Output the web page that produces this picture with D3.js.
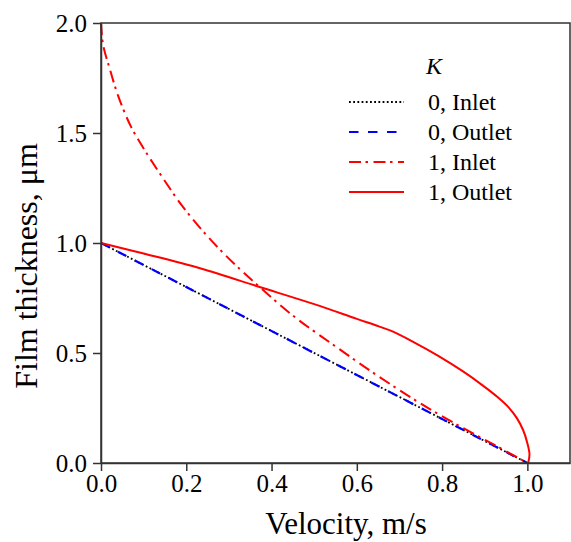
<!DOCTYPE html>
<html><head><meta charset="utf-8">
<script src="https://cdn.jsdelivr.net/npm/d3@7"></script>
<style>body{margin:0;background:#fff;} svg{display:block;} text{font-family:"Liberation Serif","Times New Roman",serif;}</style>
</head><body>
<svg id="c" width="571" height="542"></svg>
<script>
const xTicks = [0, 0.2, 0.4, 0.6, 0.8, 1.0];
const yTicks = [0, 0.5, 1.0, 1.5, 2.0];
const legendLabels = ["0, Inlet", "0, Outlet", "1, Inlet", "1, Outlet"];

const k0InletVel = [0, 1.0];
const k0InletThick = [1.0, 0];
const k0OutletVel = [0, 1.0];
const k0OutletThick = [1.0, 0];
const k1InletVel = [0, 0.005, 0.02, 0.04, 0.07, 0.1, 0.14, 0.19, 0.25, 0.31, 0.372, 0.45, 0.55, 0.65, 0.75, 0.85, 0.93, 1.0];
const k1InletThick = [2.0, 1.90, 1.795, 1.67, 1.53, 1.43, 1.31, 1.17, 1.03, 0.91, 0.80, 0.67, 0.53, 0.395, 0.27, 0.158, 0.075, 0];
const k1OutletVel = [0, 0.1, 0.232, 0.372, 0.5, 0.6, 0.653, 0.685, 0.73, 0.79, 0.85, 0.895, 0.93, 0.955, 0.975, 0.99, 1.0, 1.005, 1.002];
const k1OutletThick = [1.0, 0.952, 0.885, 0.80, 0.722, 0.655, 0.62, 0.597, 0.553, 0.488, 0.415, 0.353, 0.30, 0.255, 0.205, 0.15, 0.09, 0.04, 0];

const svg = d3.select("#c");
const L = 101, R = 570, T = 23, B = 463;
const x = d3.scaleLinear().domain([0, 1.1]).range([L, R]);
const y = d3.scaleLinear().domain([0, 2.0]).range([B, T]);
const font = "Liberation Serif";

const series = [
  {vel: k0InletVel, th: k0InletThick, color: "#000", dash: "1.8,2.4", w: 1.8},
  {vel: k0OutletVel, th: k0OutletThick, color: "#0000ff", dash: "9.5,9.5", w: 2.2},
  {vel: k1InletVel, th: k1InletThick, color: "#ff0000", dash: "12,4.5,2.5,5.5", w: 2},
  {vel: k1OutletVel, th: k1OutletThick, color: "#ff0000", dash: null, w: 2}
];

const line = d3.line().x(d => x(d[0])).y(d => y(d[1])).curve(d3.curveCatmullRom.alpha(0.5));
series.forEach(s => {
  const pts = s.vel.map((v, i) => [v, s.th[i]]);
  svg.append("path").attr("d", line(pts)).attr("fill", "none")
    .attr("stroke", s.color).attr("stroke-width", s.w)
    .attr("stroke-dasharray", s.dash);
});

// frame
svg.append("rect").attr("x", L).attr("y", T).attr("width", R - L).attr("height", B - T)
  .attr("fill", "none").attr("stroke", "#333").attr("stroke-width", 1.5);

const xAxis = svg.append("g").attr("transform", `translate(0,${B})`)
  .call(d3.axisBottom(x).tickValues(xTicks).tickFormat(d3.format(".1f")).tickSize(8).tickSizeOuter(0));
const yAxis = svg.append("g").attr("transform", `translate(${L},0)`)
  .call(d3.axisLeft(y).tickValues(yTicks).tickFormat(d3.format(".1f")).tickSize(8).tickSizeOuter(0));
[xAxis, yAxis].forEach(g => {
  g.attr("font-family", font).attr("font-size", 25);
  g.select(".domain").attr("stroke", "#333").attr("stroke-width", 1.5);
  g.selectAll(".tick line").attr("stroke", "#333").attr("stroke-width", 1.5);
  g.selectAll(".tick text").attr("fill", "#000").attr("font-family", font).attr("font-size", 25);
});
xAxis.selectAll(".tick text").attr("dy", "0.71em").attr("y", 11);
yAxis.selectAll(".tick text").attr("x", -14).attr("dy", "0.34em");

svg.append("text").attr("x", 346).attr("y", 534).attr("text-anchor", "middle")
  .attr("font-family", font).attr("font-size", 31).text("Velocity, m/s");
svg.append("text").attr("transform", "translate(37,266) rotate(-90)").attr("text-anchor", "middle")
  .attr("font-family", font).attr("font-size", 32).text("Film thickness, μm");

// legend
const lg = svg.append("g");
lg.append("text").attr("x", 426).attr("y", 74).attr("font-family", font)
  .attr("font-style", "italic").attr("font-size", 24).text("K");
legendLabels.forEach((lab, i) => {
  const yy = 102 + i * 30;
  const s = series[i];
  lg.append("line").attr("x1", 349).attr("x2", 404).attr("y1", yy).attr("y2", yy)
    .attr("stroke", s.color).attr("stroke-width", s.w).attr("stroke-dasharray", s.dash);
  lg.append("text").attr("x", 428).attr("y", yy + 8).attr("font-family", font)
    .attr("font-size", 24).text(lab);
});
</script>
</body></html>
